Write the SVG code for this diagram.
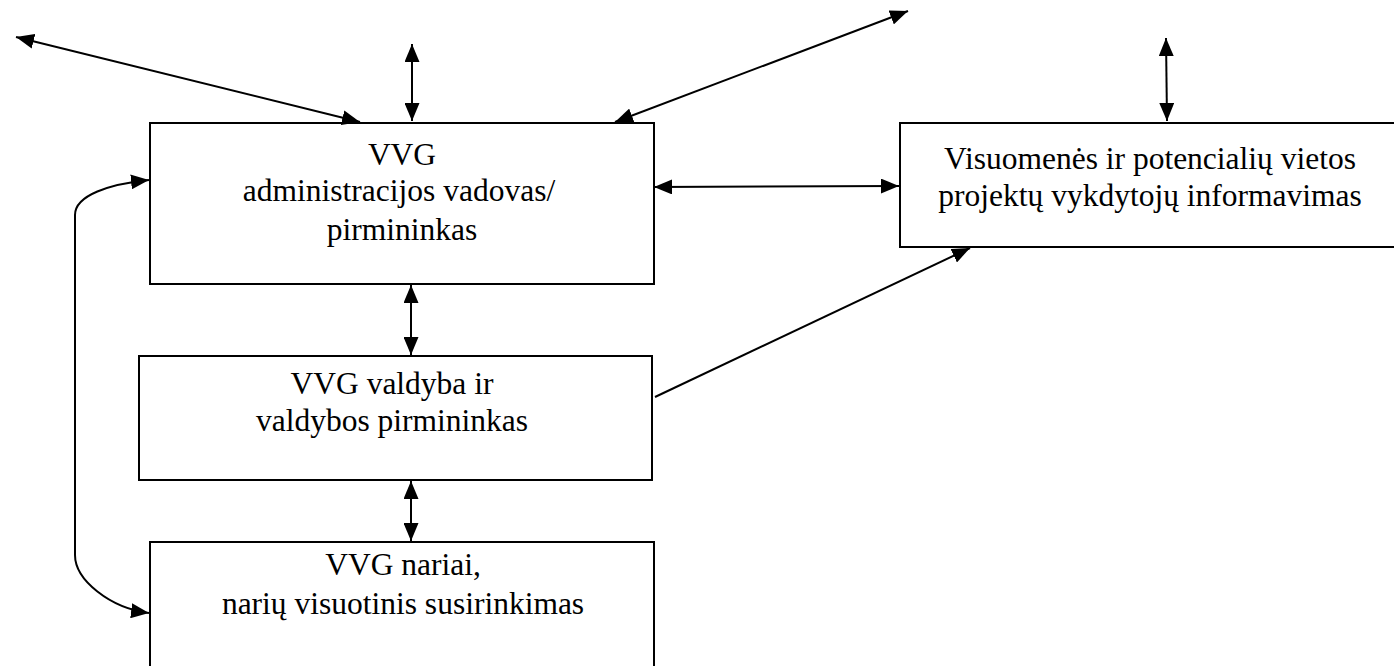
<svg xmlns="http://www.w3.org/2000/svg" width="1394" height="666" viewBox="0 0 1394 666">
<defs>
<marker id="ah" viewBox="0 0 18 15" refX="18" refY="7.5" markerWidth="18" markerHeight="15" markerUnits="userSpaceOnUse" orient="auto-start-reverse">
<path d="M0,0 L18,7.5 L0,15 Z" fill="#000"/>
</marker>
<style>
.box{fill:#fff;stroke:#000;stroke-width:2}
.t{font-family:"Liberation Serif","Times New Roman",serif;font-size:31.5px;fill:#000;text-anchor:middle}
.c{fill:none;stroke:#000;stroke-width:2}
.bi{marker-start:url(#ah);marker-end:url(#ah)}
.one{marker-end:url(#ah)}
</style>
</defs>
<rect width="1394" height="666" fill="#fff"/>
<g id="n1">
<rect class="box" x="150" y="123" width="504" height="161"/>
<text class="t" x="402" y="165">VVG</text>
<text class="t" x="399" y="201">administracijos vadovas/</text>
<text class="t" x="402" y="240">pirmininkas</text>
</g>
<g id="n2">
<rect class="box" x="139" y="356" width="513" height="124"/>
<text class="t" x="392" y="394">VVG valdyba ir</text>
<text class="t" x="392" y="431">valdybos pirmininkas</text>
</g>
<g id="n3">
<rect class="box" x="150" y="542" width="504" height="130"/>
<text class="t" x="403" y="575">VVG nariai,</text>
<text class="t" x="403" y="614">narių visuotinis susirinkimas</text>
</g>
<g id="n4">
<rect class="box" x="900" y="123" width="500" height="124"/>
<text class="t" x="1150" y="169">Visuomenės ir potencialių vietos</text>
<text class="t" x="1150" y="206">projektų vykdytojų informavimas</text>
</g>
<g id="connectors">
<line class="c bi" x1="16" y1="37" x2="360" y2="122"/>
<line class="c bi" x1="412" y1="44" x2="412" y2="121"/>
<line class="c bi" x1="615" y1="122" x2="908" y2="11"/>
<line class="c bi" x1="1166" y1="38" x2="1167" y2="121"/>
<line class="c bi" x1="654" y1="187" x2="899" y2="186"/>
<line class="c one" x1="655" y1="397" x2="970" y2="248"/>
<line class="c bi" x1="411" y1="285" x2="411" y2="355"/>
<line class="c bi" x1="411" y1="481" x2="411" y2="541"/>
<path class="c bi" d="M149,180 C110,184 75,195 75,215 L75,555 C75,580 110,608 149,613"/>
</g>
</svg>
